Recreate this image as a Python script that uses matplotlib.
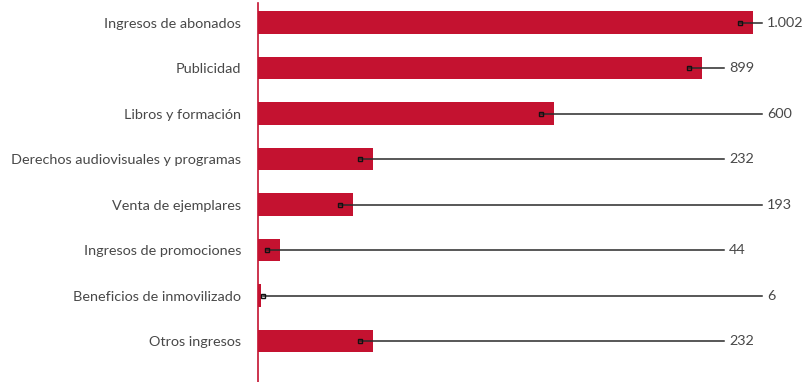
import numpy as np
import matplotlib
matplotlib.use("Agg")
import matplotlib.pyplot as plt

categories = ["Ingresos de abonados", "Publicidad", "Libros y formación",
              "Derechos audiovisuales y programas", "Venta de ejemplares",
              "Ingresos de promociones", "Beneficios de inmovilizado", "Otros ingresos"]
values = np.array([1002, 899, 600, 232, 193, 44, 6, 232])

bar_color = "#c41230"
text_color = "#484848"

plt.rcParams["font.family"] = ["Lato", "DejaVu Sans"]

fig = plt.figure(figsize=(8.09, 3.82), dpi=100)
ax = fig.add_axes([258 / 809, 0.0, 543 / 809, 1 - 3 / 382])

y = np.arange(len(categories))
ax.barh(y, values, height=0.5, color=bar_color, zorder=2)

# leader lines: small square inside the bar end, out to alternating label columns
marker_x = np.maximum(values - 26, 10)
label_x = np.where(y % 2 == 0, 1022, 945)
for yi, mx, lx, v in zip(y, marker_x, label_x, values):
    ax.plot([mx, lx], [yi, yi], color="#2a2a2a", lw=1.1, zorder=3)
    ax.plot(mx, yi, marker="s", ms=3.5, mfc="none", mec="#111111", mew=1.0, zorder=4)
    ax.text(lx + 9, yi, f"{v:,}".replace(",", "."), va="center", ha="left",
            fontsize=10.4, color=text_color)

ax.set_xlim(0, 1100)
ax.set_ylim(7.9, -0.43)
ax.set_yticks(y)
ax.set_yticklabels(categories, fontsize=10.35, color=text_color)
ax.tick_params(axis="y", length=0, pad=12)
ax.set_xticks([])

for s in ["top", "right", "bottom"]:
    ax.spines[s].set_visible(False)
ax.spines["left"].set_color(bar_color)
ax.spines["left"].set_linewidth(1.2)

fig.savefig("out.png", dpi=100)
